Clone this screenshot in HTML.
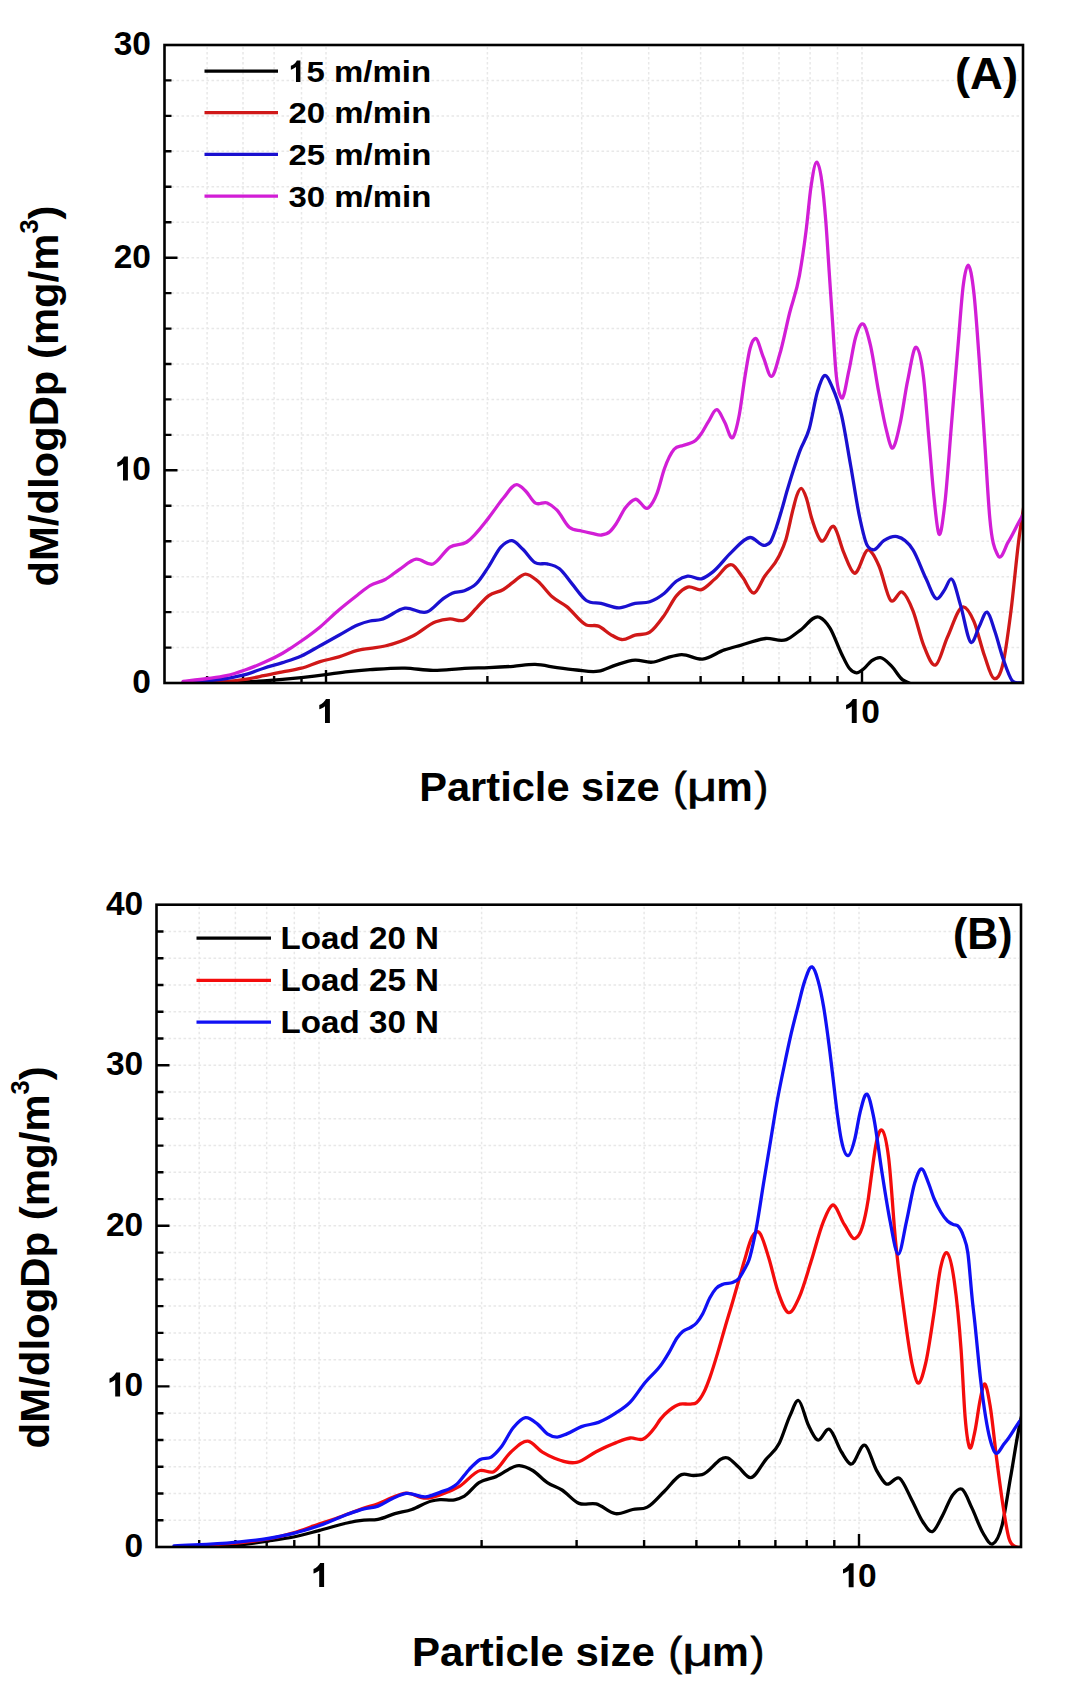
<!DOCTYPE html><html><head><meta charset="utf-8"><style>html,body{margin:0;padding:0;background:#fff}svg{display:block}text{font-family:"Liberation Sans",sans-serif;font-weight:bold;fill:#000}</style></head><body>
<svg width="1066" height="1700" viewBox="0 0 1066 1700">
<rect width="1066" height="1700" fill="#fff"/>
<path d="M207.1,47.0V681.0 M243.0,47.0V681.0 M274.1,47.0V681.0 M301.5,47.0V681.0 M326.0,47.0V681.0 M487.4,47.0V681.0 M581.7,47.0V681.0 M648.7,47.0V681.0 M700.6,47.0V681.0 M743.1,47.0V681.0 M779.0,47.0V681.0 M810.1,47.0V681.0 M837.5,47.0V681.0 M862.0,47.0V681.0 M166.5,647.6H1021.0 M166.5,612.1H1021.0 M166.5,576.7H1021.0 M166.5,541.2H1021.0 M166.5,505.8H1021.0 M166.5,470.3H1021.0 M166.5,434.9H1021.0 M166.5,399.4H1021.0 M166.5,364.0H1021.0 M166.5,328.6H1021.0 M166.5,293.1H1021.0 M166.5,257.7H1021.0 M166.5,222.2H1021.0 M166.5,186.8H1021.0 M166.5,151.3H1021.0 M166.5,115.9H1021.0 M166.5,80.4H1021.0" stroke="#e8e8e8" stroke-width="1.5" stroke-dasharray="2.6 2.4" fill="none"/>
<path d="M207.1,683.0V676.0 M243.0,683.0V676.0 M274.1,683.0V676.0 M301.5,683.0V676.0 M326.0,683.0V670.0 M487.4,683.0V676.0 M581.7,683.0V676.0 M648.7,683.0V676.0 M700.6,683.0V676.0 M743.1,683.0V676.0 M779.0,683.0V676.0 M810.1,683.0V676.0 M837.5,683.0V676.0 M862.0,683.0V670.0 M164.5,647.6H171.5 M164.5,612.1H171.5 M164.5,576.7H171.5 M164.5,541.2H171.5 M164.5,505.8H171.5 M164.5,470.3H177.5 M164.5,434.9H171.5 M164.5,399.4H171.5 M164.5,364.0H171.5 M164.5,328.6H171.5 M164.5,293.1H171.5 M164.5,257.7H177.5 M164.5,222.2H171.5 M164.5,186.8H171.5 M164.5,151.3H171.5 M164.5,115.9H171.5 M164.5,80.4H171.5" stroke="#000" stroke-width="2.4" fill="none"/>
<g clip-path="url(#clipA)" fill="none" stroke-width="3.3" stroke-linejoin="round" stroke-linecap="round">
<path d="M183.1,683.0 C197.5,682.9 211.9,683.2 226.3,682.8 C238.8,682.4 251.3,681.8 263.8,680.9 C276.3,680.0 288.8,678.9 301.3,677.6 C309.4,676.7 317.6,675.7 325.7,674.7 C333.2,673.7 340.7,672.4 348.2,671.6 C355.5,670.8 362.7,670.2 370.0,669.7 C381.6,668.9 393.3,667.8 404.9,668.1 C414.3,668.3 423.6,670.3 433.0,670.4 C443.5,670.5 453.9,668.8 464.4,668.3 C472.5,667.9 480.7,667.9 488.8,667.6 C496.9,667.3 505.1,666.9 513.2,666.3 C520.5,665.8 527.8,664.2 535.1,664.4 C542.4,664.6 549.7,666.6 557.0,667.6 C563.5,668.5 570.1,669.4 576.6,670.0 C583.9,670.7 591.2,672.5 598.5,671.2 C604.2,670.2 609.9,666.9 615.6,665.1 C622.1,663.1 628.6,660.6 635.1,660.2 C640.8,659.9 646.5,662.8 652.2,662.2 C657.1,661.7 661.9,659.1 666.8,657.8 C671.7,656.5 676.6,654.8 681.5,654.6 C688.5,654.3 695.6,659.8 702.6,659.1 C709.9,658.4 717.1,652.4 724.4,649.9 C729.8,648.1 735.1,646.8 740.5,645.3 C748.9,643.0 757.3,639.3 765.7,638.5 C772.6,637.9 779.5,642.2 786.4,639.6 C791.0,637.9 795.5,633.5 800.1,630.4 C806.6,626.0 813.0,614.5 819.5,617.3 C823.0,618.8 826.5,622.5 830.0,628.1 C833.8,634.2 837.6,645.8 841.4,653.4 C844.1,658.8 846.8,665.3 849.5,668.5 C851.8,671.3 854.2,672.7 856.5,672.8 C858.8,672.9 861.2,670.8 863.5,669.0 C866.2,667.0 868.8,662.7 871.5,660.8 C874.5,658.7 877.5,657.2 880.5,657.6 C884.3,658.2 888.0,662.6 891.8,666.4 C895.3,670.0 898.9,676.8 902.4,679.6 C904.6,681.3 906.8,681.9 909.0,683.0 C947.3,701.7 985.7,683.0 1024.0,683.0" stroke="#000"/>
<path d="M183.1,683.0 C188.1,682.9 193.1,682.9 198.1,682.8 C213.7,682.4 229.4,681.9 245.0,679.4 C251.3,678.4 257.5,677.0 263.8,675.7 C270.1,674.5 276.3,673.2 282.6,671.9 C288.8,670.7 295.1,669.9 301.3,668.2 C307.6,666.5 313.8,663.5 320.1,661.6 C326.4,659.7 332.6,658.8 338.9,656.9 C345.1,655.0 351.4,651.9 357.6,650.4 C361.7,649.4 365.9,649.0 370.0,648.3 C375.0,647.5 380.0,647.1 385.0,646.0 C394.4,643.9 403.9,640.6 413.3,635.8 C420.8,632.0 428.3,624.4 435.8,621.7 C440.5,620.0 445.2,619.2 449.9,618.9 C454.7,618.6 459.6,622.5 464.4,620.0 C468.5,617.9 472.5,611.9 476.6,607.8 C480.7,603.7 484.7,598.6 488.8,595.6 C493.7,592.0 498.5,592.5 503.4,589.5 C506.7,587.5 509.9,584.5 513.2,582.2 C517.3,579.3 521.3,574.3 525.4,574.1 C529.5,573.9 533.5,577.7 537.6,581.0 C542.5,584.9 547.3,592.5 552.2,596.8 C557.1,601.1 561.9,602.8 566.8,606.6 C573.3,611.7 579.8,622.2 586.3,624.9 C590.4,626.6 594.4,624.5 598.5,626.1 C602.6,627.7 606.6,632.3 610.7,634.6 C614.4,636.7 618.0,639.1 621.7,639.5 C626.2,639.9 630.6,636.3 635.1,635.1 C640.0,633.8 644.9,635.6 649.8,632.2 C654.7,628.9 659.5,621.9 664.4,615.1 C668.5,609.4 672.5,600.3 676.6,595.6 C680.3,591.3 683.9,588.4 687.6,587.1 C692.2,585.5 696.9,591.0 701.5,589.6 C706.1,588.2 710.6,582.4 715.2,578.8 C721.0,574.2 726.7,562.3 732.5,565.0 C735.9,566.6 739.4,573.2 742.8,577.6 C746.5,582.4 750.3,593.5 754.0,593.0 C757.6,592.5 761.1,581.5 764.7,576.2 C769.4,569.2 774.1,566.2 778.8,556.5 C781.2,551.6 783.5,547.4 785.9,539.5 C788.2,531.8 790.6,518.9 792.9,509.9 C794.3,504.6 795.6,498.5 797.0,495.0 C798.5,491.1 800.0,488.2 801.5,488.5 C803.0,488.8 804.5,492.9 806.0,497.0 C807.9,502.1 809.7,511.9 811.6,518.0 C814.7,528.0 817.7,537.2 820.8,540.5 C825.4,545.5 830.0,521.3 834.6,527.2 C837.6,531.1 840.7,545.1 843.7,552.4 C847.2,560.7 850.6,571.4 854.1,573.1 C858.9,575.4 863.7,549.0 868.5,550.0 C872.0,550.7 875.5,558.2 879.0,566.0 C882.8,574.5 886.7,595.7 890.5,600.2 C894.5,604.9 898.4,589.8 902.4,592.2 C905.9,594.4 909.5,602.0 913.0,610.8 C916.5,619.6 920.1,636.4 923.6,645.2 C927.6,655.1 931.5,666.4 935.5,665.1 C939.5,663.8 943.4,645.8 947.4,637.2 C952.7,625.8 958.0,606.5 963.3,606.8 C966.8,607.0 970.4,613.2 973.9,621.4 C977.4,629.6 981.0,645.8 984.5,655.8 C987.6,664.4 990.6,676.9 993.7,678.3 C996.8,679.7 999.9,677.0 1003.0,663.7 C1005.7,652.3 1008.3,631.7 1011.0,610.8 C1013.6,590.2 1016.3,559.4 1018.9,539.3 C1020.6,526.3 1022.3,516.4 1024.0,505.0" stroke="#d01818"/>
<path d="M183.1,682.5 C197.5,681.2 211.9,680.9 226.3,678.5 C232.5,677.4 238.8,676.4 245.0,674.7 C251.3,673.0 257.5,670.2 263.8,668.2 C270.1,666.2 276.3,664.6 282.6,662.6 C288.8,660.6 295.1,658.8 301.3,656.0 C307.6,653.2 313.8,649.2 320.1,645.7 C326.4,642.2 332.6,638.8 338.9,635.3 C345.1,631.9 351.4,627.6 357.6,625.0 C361.7,623.3 365.9,621.9 370.0,621.0 C373.7,620.2 377.3,620.4 381.0,619.5 C389.0,617.6 396.9,609.4 404.9,608.2 C412.4,607.1 419.9,614.8 427.4,611.8 C433.0,609.5 438.7,601.5 444.3,597.8 C446.9,596.1 449.6,594.3 452.2,593.2 C456.3,591.4 460.3,592.3 464.4,590.7 C468.5,589.1 472.5,587.5 476.6,583.4 C480.7,579.3 484.7,572.4 488.8,566.3 C492.9,560.2 496.9,551.1 501.0,546.8 C504.7,543.0 508.3,540.3 512.0,540.7 C515.6,541.1 519.3,545.9 522.9,549.3 C527.0,553.1 531.0,560.3 535.1,562.7 C539.2,565.1 543.2,562.9 547.3,563.9 C551.4,564.9 555.4,565.5 559.5,568.8 C563.6,572.0 567.6,578.6 571.7,583.4 C576.6,589.2 581.4,597.2 586.3,600.5 C591.2,603.9 596.1,602.3 601.0,603.4 C607.1,604.7 613.2,608.0 619.3,607.8 C624.6,607.6 629.8,604.4 635.1,603.4 C640.0,602.4 644.9,603.4 649.8,601.7 C654.7,600.0 659.5,597.1 664.4,593.2 C668.5,589.9 672.5,583.9 676.6,581.0 C680.3,578.4 683.9,576.7 687.6,576.1 C692.2,575.3 696.9,579.9 701.5,578.8 C705.3,577.9 709.1,574.9 712.9,571.9 C719.0,567.1 725.2,558.1 731.3,552.4 C737.6,546.6 743.8,538.0 750.1,537.5 C755.2,537.1 760.4,547.1 765.5,545.2 C767.1,544.6 768.8,544.4 770.4,542.0 C772.3,539.2 774.1,533.5 776.0,528.2 C777.9,522.8 779.8,516.3 781.7,509.9 C783.6,503.6 785.4,496.4 787.3,490.1 C789.2,483.7 791.0,477.7 792.9,471.8 C795.3,464.4 797.6,457.0 800.0,450.6 C803.1,442.2 806.2,439.4 809.3,428.5 C812.0,419.0 814.7,400.9 817.4,391.8 C819.7,384.2 821.9,377.1 824.2,375.6 C826.9,373.9 829.6,381.3 832.3,387.2 C835.3,393.8 838.4,401.8 841.4,414.7 C844.5,427.7 847.5,448.0 850.6,465.2 C853.7,482.4 856.7,503.8 859.8,518.0 C862.1,528.7 864.4,539.1 866.7,544.4 C868.9,549.3 871.0,549.4 873.2,549.8 C876.7,550.5 880.3,542.8 883.8,540.6 C888.2,537.9 892.7,535.6 897.1,536.6 C902.4,537.7 907.7,541.4 913.0,549.8 C917.4,556.8 921.8,570.1 926.2,579.0 C929.7,586.1 933.3,598.3 936.8,598.8 C939.4,599.1 942.1,593.3 944.7,589.6 C946.9,586.5 949.2,578.3 951.4,579.0 C954.5,579.9 957.5,595.8 960.6,605.5 C964.1,616.7 967.7,641.2 971.2,642.5 C973.9,643.5 976.5,631.7 979.2,626.6 C981.8,621.6 984.5,611.3 987.1,612.1 C989.8,612.9 992.4,624.2 995.1,632.0 C997.7,639.7 1000.4,650.7 1003.0,658.4 C1006.1,667.4 1009.2,677.2 1012.3,680.9 C1014.5,683.5 1016.7,682.7 1018.9,683.0 C1020.6,683.2 1022.3,683.0 1024.0,683.0" stroke="#1a10d0"/>
<path d="M183.1,681.3 C191.2,680.4 199.4,679.6 207.5,678.5 C213.8,677.7 220.0,677.1 226.3,675.7 C232.5,674.3 238.8,672.2 245.0,670.0 C251.3,667.8 257.5,665.4 263.8,662.6 C270.1,659.8 276.3,656.8 282.6,653.2 C288.8,649.6 295.1,645.4 301.3,641.0 C307.6,636.6 313.8,632.1 320.1,626.9 C326.4,621.7 332.6,615.3 338.9,610.0 C345.1,604.7 351.4,599.8 357.6,595.0 C361.7,591.8 365.9,588.1 370.0,585.6 C375.1,582.6 380.1,582.3 385.2,579.5 C389.9,576.9 394.5,572.7 399.2,569.6 C404.8,565.9 410.5,560.1 416.1,559.2 C421.7,558.3 427.4,566.0 433.0,564.0 C438.6,562.0 444.3,550.8 449.9,547.1 C455.5,543.4 461.2,545.7 466.8,542.0 C474.1,537.2 481.5,526.8 488.8,517.6 C493.7,511.5 498.5,503.7 503.4,498.0 C507.9,492.8 512.3,484.4 516.8,484.6 C519.7,484.7 522.5,487.9 525.4,490.7 C528.6,493.8 531.9,500.6 535.1,502.9 C539.2,505.7 543.2,501.2 547.3,502.9 C550.5,504.3 553.8,506.9 557.0,510.2 C561.1,514.4 565.2,523.8 569.3,527.3 C573.4,530.7 577.4,530.0 581.5,531.0 C585.0,531.9 588.5,532.6 592.0,533.3 C595.2,533.9 598.3,535.4 601.5,535.0 C604.3,534.6 607.2,534.1 610.0,531.5 C612.0,529.7 614.0,526.9 616.0,524.0 C619.1,519.5 622.3,511.9 625.4,507.8 C628.6,503.6 631.9,500.1 635.1,499.3 C639.6,498.2 644.0,511.3 648.5,507.8 C651.4,505.5 654.2,500.6 657.1,493.2 C659.5,486.9 662.0,475.5 664.4,468.8 C667.6,459.8 670.9,453.1 674.1,449.3 C677.1,445.8 680.0,446.6 683.0,445.5 C685.3,444.7 687.7,444.3 690.0,443.3 C691.8,442.5 693.7,442.1 695.5,440.5 C697.3,438.9 699.2,436.6 701.0,434.0 C703.5,430.6 705.9,425.4 708.4,421.6 C711.3,417.2 714.2,408.9 717.1,409.7 C719.5,410.3 722.0,417.5 724.4,421.6 C727.3,426.5 730.2,441.2 733.1,437.2 C735.2,434.4 737.2,425.5 739.3,414.7 C741.2,404.6 743.2,387.4 745.1,375.7 C746.8,365.6 748.4,354.4 750.1,348.2 C751.9,341.6 753.6,338.8 755.4,338.5 C758.1,338.1 760.7,351.1 763.4,357.4 C766.1,363.8 768.8,376.8 771.5,376.4 C774.3,376.0 777.0,363.4 779.8,354.1 C783.1,343.1 786.3,326.1 789.6,313.0 C792.9,299.8 796.2,293.5 799.5,275.1 C801.7,262.8 803.9,248.1 806.1,230.6 C807.8,217.3 809.4,197.3 811.1,186.1 C813.0,173.4 814.9,162.1 816.8,162.2 C818.5,162.3 820.1,169.1 821.8,181.2 C823.2,191.1 824.5,204.9 825.9,222.4 C827.0,236.5 828.1,255.3 829.2,271.8 C830.3,288.3 831.4,304.7 832.5,321.2 C833.6,337.7 834.7,358.2 835.8,370.6 C837.7,391.9 839.6,395.7 841.5,397.8 C844.0,400.5 846.4,381.4 848.9,370.6 C851.1,361.0 853.3,345.4 855.5,337.7 C858.3,328.1 861.0,321.7 863.8,324.5 C866.1,326.8 868.3,336.1 870.6,345.9 C873.2,357.3 875.9,376.9 878.5,391.0 C881.2,405.2 883.8,420.2 886.5,430.7 C888.3,437.6 890.0,446.5 891.8,447.9 C894.4,450.0 897.1,436.5 899.7,425.4 C902.4,414.1 905.0,393.1 907.7,380.4 C910.6,366.6 913.5,345.6 916.4,347.3 C918.8,348.7 921.2,357.5 923.6,377.7 C925.4,392.6 927.1,418.3 928.9,438.6 C930.7,458.9 932.4,483.1 934.2,499.5 C935.8,514.1 937.3,531.2 938.9,534.0 C940.8,537.5 942.8,520.6 944.7,504.8 C946.9,486.5 949.2,452.1 951.4,425.4 C953.6,399.1 955.8,371.7 958.0,345.9 C959.8,325.2 961.5,298.5 963.3,285.0 C964.9,272.8 966.5,265.3 968.1,265.2 C970.0,265.0 972.0,276.0 973.9,293.0 C975.7,308.6 977.4,334.9 979.2,359.2 C981.0,383.5 982.7,412.1 984.5,438.6 C986.3,465.1 988.0,498.9 989.8,518.1 C992.4,546.7 995.1,549.4 997.7,555.1 C1001.2,562.7 1004.8,547.4 1008.3,541.9 C1011.8,536.4 1015.4,528.4 1018.9,522.0 C1020.6,518.9 1022.3,516.0 1024.0,513.0" stroke="#d21ed6"/>
</g>
<rect x="164.5" y="45.0" width="858.5" height="638.0" fill="none" stroke="#000" stroke-width="2.6"/>
<path d="M199.2,906.7V1545.0 M235.4,906.7V1545.0 M266.7,906.7V1545.0 M294.3,906.7V1545.0 M319.0,906.7V1545.0 M481.6,906.7V1545.0 M576.6,906.7V1545.0 M644.1,906.7V1545.0 M696.4,906.7V1545.0 M739.2,906.7V1545.0 M775.4,906.7V1545.0 M806.7,906.7V1545.0 M834.3,906.7V1545.0 M859.0,906.7V1545.0 M158.5,1520.2H1019.0 M158.5,1493.5H1019.0 M158.5,1466.7H1019.0 M158.5,1440.0H1019.0 M158.5,1413.2H1019.0 M158.5,1386.4H1019.0 M158.5,1359.7H1019.0 M158.5,1332.9H1019.0 M158.5,1306.1H1019.0 M158.5,1279.4H1019.0 M158.5,1252.6H1019.0 M158.5,1225.8H1019.0 M158.5,1199.1H1019.0 M158.5,1172.3H1019.0 M158.5,1145.6H1019.0 M158.5,1118.8H1019.0 M158.5,1092.0H1019.0 M158.5,1065.3H1019.0 M158.5,1038.5H1019.0 M158.5,1011.8H1019.0 M158.5,985.0H1019.0 M158.5,958.2H1019.0 M158.5,931.5H1019.0" stroke="#e8e8e8" stroke-width="1.5" stroke-dasharray="2.6 2.4" fill="none"/>
<path d="M199.2,1547.0V1540.0 M235.4,1547.0V1540.0 M266.7,1547.0V1540.0 M294.3,1547.0V1540.0 M319.0,1547.0V1534.0 M481.6,1547.0V1540.0 M576.6,1547.0V1540.0 M644.1,1547.0V1540.0 M696.4,1547.0V1540.0 M739.2,1547.0V1540.0 M775.4,1547.0V1540.0 M806.7,1547.0V1540.0 M834.3,1547.0V1540.0 M859.0,1547.0V1534.0 M156.5,1520.2H163.5 M156.5,1493.5H163.5 M156.5,1466.7H163.5 M156.5,1440.0H163.5 M156.5,1413.2H163.5 M156.5,1386.4H169.5 M156.5,1359.7H163.5 M156.5,1332.9H163.5 M156.5,1306.1H163.5 M156.5,1279.4H163.5 M156.5,1252.6H163.5 M156.5,1225.8H169.5 M156.5,1199.1H163.5 M156.5,1172.3H163.5 M156.5,1145.6H163.5 M156.5,1118.8H163.5 M156.5,1092.0H163.5 M156.5,1065.3H169.5 M156.5,1038.5H163.5 M156.5,1011.8H163.5 M156.5,985.0H163.5 M156.5,958.2H163.5 M156.5,931.5H163.5" stroke="#000" stroke-width="2.4" fill="none"/>
<g clip-path="url(#clipB)" fill="none" stroke-width="3.3" stroke-linejoin="round" stroke-linecap="round">
<path d="M178.1,1546.9 C196.9,1546.4 215.6,1547.2 234.4,1545.5 C245.7,1544.5 256.9,1542.7 268.2,1541.0 C276.6,1539.8 285.1,1538.7 293.5,1537.0 C302.0,1535.3 310.4,1532.8 318.9,1530.6 C328.3,1528.2 337.6,1524.9 347.0,1523.0 C352.6,1521.8 358.3,1520.8 363.9,1520.2 C368.6,1519.7 373.3,1520.2 378.0,1519.3 C383.6,1518.3 389.3,1515.3 394.9,1513.7 C400.5,1512.1 406.2,1511.4 411.8,1509.5 C418.4,1507.3 424.9,1502.6 431.5,1501.0 C434.3,1500.3 437.1,1499.9 439.9,1499.6 C444.8,1499.1 449.7,1500.9 454.6,1499.8 C457.9,1499.1 461.1,1498.0 464.4,1496.1 C469.3,1493.2 474.1,1485.9 479.0,1482.7 C484.7,1478.9 490.4,1478.9 496.1,1476.6 C503.8,1473.5 511.6,1465.1 519.3,1465.6 C523.8,1465.9 528.2,1467.9 532.7,1470.5 C537.6,1473.4 542.4,1479.5 547.3,1482.7 C552.2,1486.0 557.1,1486.9 562.0,1490.0 C567.7,1493.6 573.3,1501.1 579.0,1503.4 C584.7,1505.7 590.4,1502.5 596.1,1503.9 C602.6,1505.5 609.1,1513.0 615.6,1513.7 C621.3,1514.3 627.0,1510.7 632.7,1509.5 C637.6,1508.5 642.4,1509.6 647.3,1507.1 C653.0,1504.2 658.7,1496.6 664.4,1491.2 C670.1,1485.8 675.8,1476.7 681.5,1474.6 C685.6,1473.1 689.6,1475.6 693.7,1475.5 C696.5,1475.4 699.3,1475.3 702.1,1474.7 C710.7,1472.7 719.3,1454.4 727.9,1458.0 C731.4,1459.5 735.0,1464.0 738.5,1467.1 C742.5,1470.6 746.6,1477.9 750.6,1477.7 C755.7,1477.5 760.7,1465.7 765.8,1459.6 C770.3,1454.1 774.9,1451.9 779.4,1442.9 C782.9,1435.9 786.5,1423.1 790.0,1415.6 C792.8,1409.6 795.7,1399.9 798.5,1400.5 C801.7,1401.2 805.0,1418.0 808.2,1424.7 C811.2,1431.0 814.3,1438.1 817.3,1439.9 C821.3,1442.2 825.4,1427.3 829.4,1429.3 C833.4,1431.3 837.5,1445.7 841.5,1452.0 C844.5,1456.7 847.6,1463.0 850.6,1464.1 C855.6,1465.8 860.5,1441.6 865.5,1445.5 C869.1,1448.3 872.8,1463.5 876.4,1470.1 C879.6,1475.9 882.8,1481.7 886.0,1483.8 C890.5,1486.8 895.1,1474.9 899.6,1478.3 C903.7,1481.3 907.8,1492.5 911.9,1500.2 C915.6,1507.1 919.2,1516.6 922.9,1522.0 C926.1,1526.6 929.2,1532.5 932.4,1531.6 C935.6,1530.7 938.8,1522.3 942.0,1516.6 C945.6,1510.2 949.3,1499.2 952.9,1494.7 C955.9,1490.9 959.0,1487.4 962.0,1489.2 C965.4,1491.2 968.7,1501.4 972.1,1508.4 C975.7,1515.9 979.4,1527.0 983.0,1533.0 C986.2,1538.3 989.4,1545.3 992.6,1543.9 C995.8,1542.5 999.0,1537.5 1002.2,1524.8 C1004.9,1513.9 1007.7,1493.9 1010.4,1478.3 C1013.6,1460.2 1016.7,1438.6 1019.9,1423.6 C1020.9,1418.7 1022.0,1414.5 1023.0,1410.0" stroke="#000"/>
<path d="M178.1,1546.6 C196.9,1545.5 215.6,1545.1 234.4,1543.2 C245.7,1542.1 256.9,1541.2 268.2,1539.0 C276.6,1537.4 285.1,1535.3 293.5,1532.8 C302.0,1530.3 310.4,1526.9 318.9,1524.1 C324.5,1522.2 330.2,1520.4 335.8,1518.5 C345.2,1515.3 354.5,1511.2 363.9,1508.1 C368.6,1506.6 373.3,1505.5 378.0,1503.8 C382.7,1502.0 387.4,1499.4 392.1,1497.6 C396.8,1495.8 401.4,1493.5 406.1,1493.1 C412.7,1492.6 419.2,1498.4 425.8,1498.2 C430.5,1498.1 435.3,1496.4 440.0,1494.9 C446.5,1492.8 453.0,1490.2 459.5,1486.3 C466.4,1482.2 473.3,1472.2 480.2,1470.5 C484.7,1469.4 489.2,1473.8 493.7,1471.7 C499.4,1469.1 505.0,1457.3 510.7,1452.2 C516.4,1447.1 522.1,1440.6 527.8,1441.2 C532.7,1441.7 537.5,1449.2 542.4,1452.2 C546.5,1454.7 550.5,1456.7 554.6,1458.3 C561.9,1461.1 569.3,1463.9 576.6,1462.4 C583.1,1461.1 589.6,1455.0 596.1,1451.7 C602.6,1448.5 609.1,1445.4 615.6,1442.9 C620.5,1441.0 625.3,1438.6 630.2,1438.0 C634.7,1437.4 639.2,1441.2 643.7,1438.8 C647.3,1436.9 651.0,1432.6 654.6,1427.8 C656.6,1425.2 658.5,1421.6 660.5,1419.1 C663.5,1415.2 666.5,1412.5 669.5,1410.1 C673.0,1407.3 676.5,1405.1 680.0,1404.1 C683.5,1403.1 687.0,1404.7 690.5,1404.1 C692.5,1403.8 694.5,1404.1 696.5,1402.6 C699.0,1400.7 701.5,1397.1 704.0,1392.1 C706.0,1388.1 708.0,1382.7 710.0,1377.1 C712.5,1370.0 715.1,1361.5 717.6,1353.1 C720.1,1344.9 722.5,1335.9 725.0,1327.5 C727.5,1318.9 730.1,1310.7 732.6,1302.0 C734.6,1295.1 736.6,1288.0 738.6,1281.0 C740.6,1274.0 742.6,1266.6 744.6,1260.0 C747.1,1251.7 749.6,1241.4 752.1,1236.9 C754.4,1232.7 756.8,1230.7 759.1,1232.4 C762.3,1234.8 765.6,1247.8 768.8,1258.1 C771.8,1267.7 774.9,1282.6 777.9,1291.4 C781.4,1301.6 785.0,1311.6 788.5,1312.6 C792.0,1313.6 795.6,1305.1 799.1,1297.5 C803.1,1288.8 807.2,1273.7 811.2,1261.1 C815.2,1248.5 819.3,1231.6 823.3,1221.8 C826.3,1214.4 829.4,1206.2 832.4,1205.1 C836.4,1203.7 840.5,1219.0 844.5,1224.8 C848.1,1229.9 851.6,1240.0 855.2,1238.4 C857.5,1237.4 859.7,1235.1 862.0,1228.0 C864.1,1221.5 866.1,1212.7 868.2,1199.4 C869.3,1192.3 870.4,1182.8 871.5,1175.0 C873.1,1163.4 874.8,1149.7 876.4,1142.2 C878.2,1133.8 880.1,1128.8 881.9,1130.0 C884.2,1131.5 886.4,1140.0 888.7,1158.4 C891.0,1176.8 893.2,1216.9 895.5,1240.4 C898.2,1268.8 901.0,1288.3 903.7,1308.8 C906.4,1329.3 909.2,1350.5 911.9,1363.5 C913.7,1372.2 915.6,1380.5 917.4,1382.6 C920.1,1385.7 922.9,1374.9 925.6,1363.5 C928.3,1352.1 931.1,1331.9 933.8,1314.2 C936.1,1299.5 938.3,1278.0 940.6,1267.7 C942.7,1258.2 944.8,1251.7 946.9,1252.7 C949.4,1253.9 951.8,1263.9 954.3,1281.4 C956.6,1297.5 958.8,1317.7 961.1,1349.8 C962.5,1369.2 963.8,1401.9 965.2,1418.1 C966.6,1434.3 967.9,1443.0 969.3,1446.9 C971.1,1452.1 973.0,1439.8 974.8,1431.8 C976.6,1423.8 978.5,1407.5 980.3,1399.0 C981.7,1392.7 983.0,1384.7 984.4,1384.0 C986.2,1383.1 988.1,1394.1 989.9,1404.5 C992.2,1417.3 994.4,1441.7 996.7,1459.2 C998.5,1473.3 1000.4,1488.0 1002.2,1500.2 C1004.5,1515.3 1006.7,1530.8 1009.0,1538.5 C1011.3,1546.2 1013.5,1545.2 1015.8,1546.6 C1018.2,1548.1 1020.6,1546.9 1023.0,1547.0" stroke="#f40c0c"/>
<path d="M173.9,1546.0 C194.1,1544.8 214.2,1544.3 234.4,1542.4 C245.7,1541.3 256.9,1540.4 268.2,1538.5 C276.6,1537.1 285.1,1535.5 293.5,1533.4 C302.0,1531.3 310.4,1528.7 318.9,1525.8 C328.3,1522.5 337.6,1517.9 347.0,1514.5 C352.6,1512.5 358.3,1510.4 363.9,1508.9 C368.6,1507.7 373.3,1507.8 378.0,1506.1 C382.7,1504.4 387.4,1500.9 392.1,1498.8 C396.8,1496.7 401.4,1494.1 406.1,1493.4 C412.7,1492.4 419.2,1497.5 425.8,1496.8 C430.5,1496.3 435.3,1494.3 440.0,1492.4 C445.7,1490.1 451.4,1489.1 457.1,1483.9 C461.2,1480.2 465.2,1473.5 469.3,1469.3 C472.9,1465.5 476.6,1461.5 480.2,1459.5 C483.9,1457.4 487.5,1459.4 491.2,1457.1 C494.5,1455.0 497.7,1451.4 501.0,1447.3 C505.1,1442.1 509.1,1432.8 513.2,1427.8 C517.3,1422.8 521.3,1418.2 525.4,1417.6 C529.5,1417.0 533.5,1420.9 537.6,1424.1 C540.8,1426.7 544.1,1431.7 547.3,1433.9 C550.6,1436.1 553.8,1437.1 557.1,1437.1 C560.3,1437.1 563.6,1435.2 566.8,1433.9 C571.7,1432.0 576.6,1428.5 581.5,1426.6 C587.2,1424.4 592.8,1424.6 598.5,1422.4 C604.2,1420.2 609.9,1416.9 615.6,1413.2 C620.5,1410.0 625.3,1407.3 630.2,1402.2 C635.1,1397.1 640.0,1388.7 644.9,1382.7 C650.6,1375.7 656.3,1371.9 662.0,1363.6 C664.5,1360.0 667.0,1355.9 669.5,1351.6 C672.0,1347.3 674.5,1341.6 677.0,1338.0 C679.0,1335.1 681.0,1333.0 683.0,1331.3 C685.5,1329.2 688.0,1329.1 690.5,1327.5 C692.5,1326.2 694.5,1325.2 696.5,1323.0 C698.5,1320.7 700.6,1317.7 702.6,1314.0 C705.1,1309.5 707.5,1302.0 710.0,1297.5 C712.0,1293.8 714.0,1290.7 716.0,1288.5 C718.5,1285.7 721.1,1285.0 723.6,1284.0 C726.6,1282.8 729.6,1283.8 732.6,1282.5 C734.6,1281.6 736.6,1281.0 738.6,1278.8 C740.6,1276.5 742.6,1272.7 744.6,1269.0 C746.1,1266.3 747.5,1264.3 749.0,1260.0 C751.1,1253.9 753.1,1244.2 755.2,1233.9 C758.2,1219.2 761.1,1198.0 764.1,1180.0 C766.3,1166.5 768.6,1152.8 770.8,1139.4 C773.1,1125.8 775.3,1111.2 777.6,1098.8 C779.9,1086.4 782.1,1075.9 784.4,1065.0 C786.6,1054.3 788.9,1043.5 791.1,1033.9 C793.4,1024.1 795.6,1015.6 797.9,1006.8 C800.2,998.0 802.4,987.6 804.7,981.1 C807.2,974.0 809.6,965.9 812.1,966.9 C814.1,967.7 816.2,973.7 818.2,981.1 C820.0,987.6 821.8,996.2 823.6,1006.8 C825.4,1017.4 827.2,1030.8 829.0,1044.7 C830.4,1055.3 831.7,1067.2 833.1,1078.6 C834.4,1089.7 835.8,1102.4 837.1,1112.4 C838.5,1122.7 839.8,1132.6 841.2,1139.4 C843.5,1150.8 845.7,1155.8 848.0,1155.7 C850.2,1155.6 852.5,1148.0 854.7,1139.4 C856.5,1132.5 858.3,1119.6 860.1,1112.4 C862.4,1103.4 864.6,1093.3 866.9,1094.1 C869.2,1094.9 871.4,1106.2 873.7,1117.3 C876.4,1130.7 879.2,1154.7 881.9,1172.0 C884.6,1189.3 887.4,1207.6 890.1,1221.3 C892.8,1235.0 895.6,1254.1 898.3,1254.1 C901.0,1254.1 903.8,1233.1 906.5,1221.3 C909.2,1209.5 912.0,1191.9 914.7,1183.0 C917.0,1175.6 919.2,1169.1 921.5,1169.0 C923.8,1168.9 926.1,1177.2 928.4,1182.8 C930.3,1187.4 932.1,1194.0 934.0,1198.5 C936.3,1204.0 938.5,1208.2 940.8,1212.0 C943.0,1215.7 945.3,1218.9 947.5,1221.0 C949.4,1222.8 951.3,1223.6 953.2,1224.4 C954.7,1225.1 956.2,1224.4 957.7,1225.8 C959.6,1227.6 961.4,1230.3 963.3,1235.7 C964.8,1240.0 966.3,1241.9 967.8,1252.6 C969.3,1263.3 970.8,1285.6 972.3,1299.9 C973.1,1307.8 974.0,1314.7 974.8,1322.4 C976.6,1339.4 978.5,1361.1 980.3,1377.1 C982.1,1393.0 984.0,1407.0 985.8,1418.1 C988.5,1434.7 991.3,1445.6 994.0,1451.0 C997.6,1458.1 1001.3,1446.6 1004.9,1442.8 C1009.9,1437.5 1014.9,1427.4 1019.9,1420.9 C1020.9,1419.6 1022.0,1418.3 1023.0,1417.0" stroke="#1010f4"/>
</g>
<rect x="156.5" y="904.7" width="864.5" height="642.3" fill="none" stroke="#000" stroke-width="2.6"/>
<defs><clipPath id="clipA"><rect x="164.5" y="45.0" width="858.5" height="638.0"/></clipPath><clipPath id="clipB"><rect x="156.5" y="904.7" width="864.5" height="642.3"/></clipPath></defs>
<text x="151.0" y="693.1" font-size="33.5" text-anchor="end">0</text>
<text x="151.0" y="480.4" font-size="33.5" text-anchor="end">0</text><path transform="translate(127.90,480.43) scale(1.000)" d="M0,0 V-24 H-3.9 C-5.2,-21.4 -7.6,-19.3 -10.6,-18.0 V-13.7 C-8.6,-14.4 -6.4,-15.4 -4.9,-16.7 V0 Z" fill="#000"/>
<text x="151.0" y="267.8" font-size="33.5" text-anchor="end">20</text>
<text x="151.0" y="55.1" font-size="33.5" text-anchor="end">30</text>
<text x="143.2" y="1557.0" font-size="33.5" text-anchor="end">0</text>
<text x="143.2" y="1396.4" font-size="33.5" text-anchor="end">0</text><path transform="translate(120.10,1396.42) scale(1.000)" d="M0,0 V-24 H-3.9 C-5.2,-21.4 -7.6,-19.3 -10.6,-18.0 V-13.7 C-8.6,-14.4 -6.4,-15.4 -4.9,-16.7 V0 Z" fill="#000"/>
<text x="143.2" y="1235.8" font-size="33.5" text-anchor="end">20</text>
<text x="143.2" y="1075.3" font-size="33.5" text-anchor="end">30</text>
<text x="143.2" y="914.7" font-size="33.5" text-anchor="end">40</text>
<path transform="translate(329.90,722.90) scale(1.000)" d="M0,0 V-24 H-3.9 C-5.2,-21.4 -7.6,-19.3 -10.6,-18.0 V-13.7 C-8.6,-14.4 -6.4,-15.4 -4.9,-16.7 V0 Z" fill="#000"/>
<text x="879.8" y="722.9" font-size="33.5" text-anchor="end">0</text><path transform="translate(856.70,722.90) scale(1.000)" d="M0,0 V-24 H-3.9 C-5.2,-21.4 -7.6,-19.3 -10.6,-18.0 V-13.7 C-8.6,-14.4 -6.4,-15.4 -4.9,-16.7 V0 Z" fill="#000"/>
<path transform="translate(324.10,1587.10) scale(1.000)" d="M0,0 V-24 H-3.9 C-5.2,-21.4 -7.6,-19.3 -10.6,-18.0 V-13.7 C-8.6,-14.4 -6.4,-15.4 -4.9,-16.7 V0 Z" fill="#000"/>
<text x="876.7" y="1587.3" font-size="33.5" text-anchor="end">0</text><path transform="translate(853.60,1587.30) scale(1.000)" d="M0,0 V-24 H-3.9 C-5.2,-21.4 -7.6,-19.3 -10.6,-18.0 V-13.7 C-8.6,-14.4 -6.4,-15.4 -4.9,-16.7 V0 Z" fill="#000"/>
<g transform="translate(422.20,801.30) scale(1.0000,1)"><text x="-3" y="0" font-size="41" textLength="240.5" lengthAdjust="spacingAndGlyphs">Particle size</text><text x="251" y="0" font-size="40" style="font-weight:normal" stroke="#000" stroke-width="0.8">(</text><text transform="translate(264.5,0) scale(1.3,1)" x="0" y="0" font-size="41" style="font-weight:normal" stroke="#000" stroke-width="0.5">μ</text><text x="294" y="0" font-size="41">m</text><text x="332.5" y="0" font-size="40" style="font-weight:normal" stroke="#000" stroke-width="0.8">)</text></g>
<g transform="translate(415.00,1666.30) scale(1.0100,1)"><text x="-3" y="0" font-size="41" textLength="240.5" lengthAdjust="spacingAndGlyphs">Particle size</text><text x="251" y="0" font-size="40" style="font-weight:normal" stroke="#000" stroke-width="0.8">(</text><text transform="translate(264.5,0) scale(1.3,1)" x="0" y="0" font-size="41" style="font-weight:normal" stroke="#000" stroke-width="0.5">μ</text><text x="294" y="0" font-size="41">m</text><text x="332.5" y="0" font-size="40" style="font-weight:normal" stroke="#000" stroke-width="0.8">)</text></g>
<g transform="translate(57.6,586.5) rotate(-90)"><text x="0" y="0" font-size="41" textLength="381.0" lengthAdjust="spacingAndGlyphs">dM/dlogDp (mg/m<tspan font-size="25" dy="-20">3</tspan><tspan dy="20">)</tspan></text></g>
<g transform="translate(48.8,1448.4) rotate(-90)"><text x="0" y="0" font-size="41" textLength="382.2" lengthAdjust="spacingAndGlyphs">dM/dlogDp (mg/m<tspan font-size="25" dy="-20">3</tspan><tspan dy="20">)</tspan></text></g>
<text x="955.0" y="89.3" font-size="45.0" textLength="63.0" lengthAdjust="spacingAndGlyphs">(A)</text>
<text x="953.0" y="948.8" font-size="45.0" textLength="59.5" lengthAdjust="spacingAndGlyphs">(B)</text>
<path d="M204.5,71.2H278" stroke="#000" stroke-width="3.2"/>
<path transform="translate(300.40,82.00) scale(0.900)" d="M0,0 V-24 H-3.9 C-5.2,-21.4 -7.6,-19.3 -10.6,-18.0 V-13.7 C-8.6,-14.4 -6.4,-15.4 -4.9,-16.7 V0 Z" fill="#000"/>
<text x="306.5" y="82.0" font-size="30.0" textLength="124.6" lengthAdjust="spacingAndGlyphs">5 m/min</text>
<path d="M204.5,112.6H278" stroke="#d01818" stroke-width="3.2"/>
<text x="288.5" y="123.4" font-size="30.0" textLength="142.8" lengthAdjust="spacingAndGlyphs">20 m/min</text>
<path d="M204.5,154.4H278" stroke="#1a10d0" stroke-width="3.2"/>
<text x="288.5" y="165.2" font-size="30.0" textLength="142.8" lengthAdjust="spacingAndGlyphs">25 m/min</text>
<path d="M204.5,196.2H278" stroke="#d21ed6" stroke-width="3.2"/>
<text x="288.5" y="207.0" font-size="30.0" textLength="142.8" lengthAdjust="spacingAndGlyphs">30 m/min</text>
<path d="M196.5,938.2H271" stroke="#000" stroke-width="3.2"/>
<text x="280.5" y="948.8" font-size="31.0" textLength="158.5" lengthAdjust="spacingAndGlyphs">Load 20 N</text>
<path d="M196.5,980.3H271" stroke="#f40c0c" stroke-width="3.2"/>
<text x="280.5" y="990.9" font-size="31.0" textLength="158.5" lengthAdjust="spacingAndGlyphs">Load 25 N</text>
<path d="M196.5,1022.1H271" stroke="#1010f4" stroke-width="3.2"/>
<text x="280.5" y="1032.7" font-size="31.0" textLength="158.5" lengthAdjust="spacingAndGlyphs">Load 30 N</text>
</svg></body></html>
